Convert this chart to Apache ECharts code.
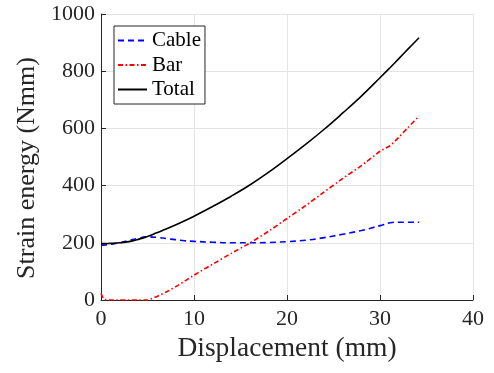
<!DOCTYPE html>
<html lang="en">
<head>
    <meta charset="UTF-8">
    <title>Strain energy</title>
    <script src="https://cdn.jsdelivr.net/npm/echarts@6/dist/echarts.min.js"></script>
</head>
<body style="margin:0;background:#fff;">
    <div id="main" style="width:494px;height:373px;"></div>
    <script type="text/javascript">
        // displacement (mm)
        var disp = [0, 0.3, 1, 2, 3, 4, 5, 6, 7, 8, 9, 10, 12, 14, 16, 18, 20, 22, 24, 26, 28, 30, 31.1, 32, 33, 34.2];
        // strain energy (Nmm)
        var cable = [192, 192, 195, 200, 208, 216, 221, 219, 215, 211, 207, 205, 202, 200, 200, 201, 204, 209, 218, 230, 243, 260, 270, 272, 272, 272];
        var bar = [23, 3, 0, 0, 0, 0, 0, 12, 28, 46, 66, 87, 125, 163, 199, 240, 285, 330, 378, 425, 470, 520, 540, 568, 603, 643];
        var total = [197, 197, 198, 200, 204, 212, 222, 235, 248, 262, 277, 293, 327, 363, 402, 446, 494, 544, 597, 654, 713, 777, 813, 843, 877, 917];

        var font = 'Liberation Serif';
        var dark = '#262626';

        function pairs(ys) {
            var out = [];
            for (var i = 0; i < disp.length; i++) out.push([disp[i], ys[i]]);
            return out;
        }

        var myChart = echarts.init(document.getElementById('main'));

        var option = {
            animation: false,
            grid: { left: 101, right: 21, top: 14, bottom: 73 },
            legend: {
                orient: 'vertical',
                left: 114,
                top: 26,
                padding: [4, 4, 4, 3],
                itemGap: 3.5,
                itemWidth: 29,
                itemHeight: 12,
                backgroundColor: '#fff',
                borderColor: dark,
                borderWidth: 1,
                // hide the marker dot, keep only the line sample
                itemStyle: { opacity: 0 },
                textStyle: { fontFamily: font, fontSize: 21, color: '#000' },
                data: ['Cable', 'Bar', 'Total']
            },
            xAxis: {
                type: 'value',
                min: 0, max: 40, interval: 10,
                name: 'Displacement (mm)',
                nameLocation: 'middle',
                nameGap: 31,
                nameTextStyle: { fontFamily: font, fontSize: 27.5, color: dark },
                axisLine: { lineStyle: { color: dark, width: 1 } },
                axisTick: { inside: true, length: 5, lineStyle: { color: dark } },
                axisLabel: { fontFamily: font, fontSize: 22, color: dark, margin: 8 },
                splitLine: { show: true, lineStyle: { color: '#e4e4e4', width: 1 } }
            },
            yAxis: {
                type: 'value',
                min: 0, max: 1000, interval: 200,
                name: 'Strain energy (Nmm)',
                nameLocation: 'middle',
                nameGap: 61,
                nameTextStyle: { fontFamily: font, fontSize: 26, color: dark, padding: [0, 22, 0, 0] },
                axisLine: { show: true, lineStyle: { color: dark, width: 1 } },
                axisTick: { show: true, inside: true, length: 5, lineStyle: { color: dark } },
                axisLabel: {
                    fontFamily: font, fontSize: 22, color: dark, margin: 6,
                    formatter: function (v) { return String(v); }
                },
                splitLine: { show: true, lineStyle: { color: '#e4e4e4', width: 1 } }
            },
            series: [
                {
                    name: 'Cable',
                    type: 'line',
                    smooth: 0.4,
                    symbol: 'none',
                    data: pairs(cable),
                    itemStyle: { color: '#0000ff' },
                    lineStyle: { color: '#0000ff', width: 1.6, type: [6, 4] },
                    z: 3
                },
                {
                    name: 'Bar',
                    type: 'line',
                    smooth: 0.15,
                    symbol: 'none',
                    data: pairs(bar),
                    itemStyle: { color: '#ff0000' },
                    lineStyle: { color: '#ff0000', width: 1.6, type: [5, 2.5, 1.5, 2.5] },
                    z: 4
                },
                {
                    name: 'Total',
                    type: 'line',
                    smooth: 0.4,
                    symbol: 'none',
                    data: pairs(total),
                    itemStyle: { color: '#000' },
                    lineStyle: { color: '#000', width: 1.6 },
                    z: 5
                }
            ]
        };

        myChart.setOption(option);
    </script>
</body>
</html>
